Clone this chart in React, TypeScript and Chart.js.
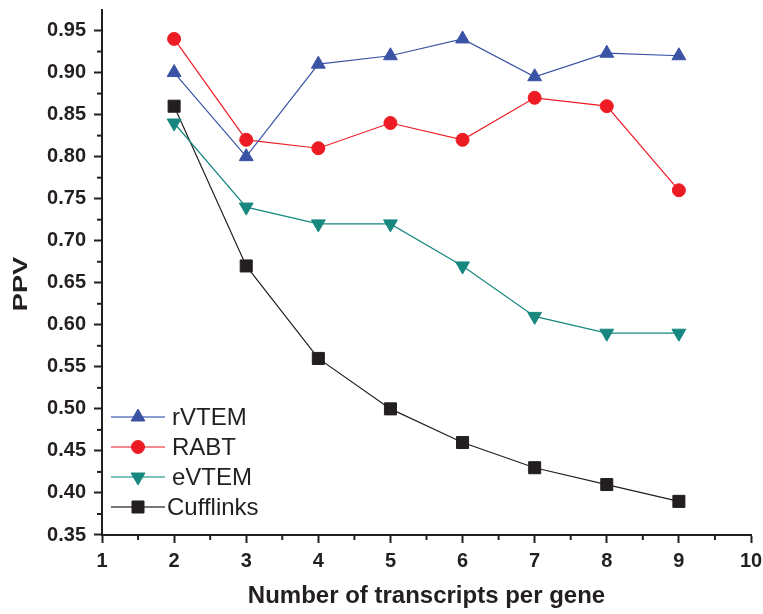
import React, { useEffect, useRef } from "react";
import { Chart, registerables } from "chart.js";

Chart.register(...registerables);

// transcripts per gene
const transcripts = [2, 3, 4, 5, 6, 7, 8, 9];

// positive predictive value for each method
const rVTEM = [0.9, 0.8, 0.91, 0.92, 0.94, 0.895, 0.923, 0.92];
const RABT = [0.94, 0.82, 0.81, 0.84, 0.82, 0.87, 0.86, 0.76];
const eVTEM = [0.84, 0.74, 0.72, 0.72, 0.67, 0.61, 0.59, 0.59];
const Cufflinks = [0.86, 0.67, 0.56, 0.5, 0.46, 0.43, 0.41, 0.39];

const seriesNames = ["rVTEM", "RABT", "eVTEM", "Cufflinks"];
const seriesColors = ["#3a53a4", "#ed1c24", "#17877f", "#231f20"];
const legendLineColors = ["#8c9bd0", "#f48a8e", "#7cc0bb", "#7a7778"];

const xTitle = "Number of transcripts per gene";
const yTitle = "PPV";

const INK = "#231f20";
const FONT = "'Liberation Sans', Arial, sans-serif";

const markerStyles = [
  { pointStyle: "triangle", pointRadius: 8, pointRotation: 0 },
  { pointStyle: "circle", pointRadius: 6.5, pointRotation: 0 },
  { pointStyle: "triangle", pointRadius: 8, pointRotation: 180 },
  { pointStyle: "rect", pointRadius: 8.5, pointRotation: 0 },
];

const legendTextX = [172, 172, 172, 167];
const legendRowsY = [417, 447, 477, 507];

function drawMarker(
  ctx: CanvasRenderingContext2D,
  style: string,
  r: number,
  rot: number,
  x: number,
  y: number
) {
  ctx.save();
  ctx.translate(x, y);
  ctx.rotate((rot * Math.PI) / 180);
  ctx.beginPath();
  if (style === "circle") {
    ctx.arc(0, 0, r, 0, Math.PI * 2);
  } else if (style === "triangle") {
    const a = (Math.PI * 2) / 3;
    ctx.moveTo(0, -r);
    ctx.lineTo(Math.sin(a) * r, -Math.cos(a) * r);
    ctx.lineTo(Math.sin(2 * a) * r, -Math.cos(2 * a) * r);
    ctx.closePath();
  } else {
    const s = Math.SQRT1_2 * r;
    ctx.rect(-s, -s, 2 * s, 2 * s);
  }
  ctx.fill();
  ctx.stroke();
  ctx.restore();
}

const extrasPlugin = {
  id: "extras",
  afterDraw(chart: any) {
    const ctx = chart.ctx as CanvasRenderingContext2D;
    const xs = chart.scales.x;
    const ys = chart.scales.y;
    const area = chart.chartArea;
    ctx.save();
    ctx.strokeStyle = INK;
    ctx.lineWidth = 2;
    // minor ticks
    for (let v = 1.5; v < 10; v += 1) {
      const px = xs.getPixelForValue(v);
      ctx.beginPath();
      ctx.moveTo(px, area.bottom);
      ctx.lineTo(px, area.bottom + 5);
      ctx.stroke();
    }
    for (let v = 0.375; v < 0.96; v += 0.05) {
      const py = ys.getPixelForValue(v);
      ctx.beginPath();
      ctx.moveTo(area.left, py);
      ctx.lineTo(area.left - 5, py);
      ctx.stroke();
    }

    // axis titles
    ctx.fillStyle = INK;
    ctx.font = `bold 24px ${FONT}`;
    ctx.textAlign = "center";
    ctx.textBaseline = "alphabetic";
    ctx.fillText(xTitle, (area.left + area.right) / 2, 603);

    ctx.save();
    ctx.translate(27, 284);
    ctx.rotate(-Math.PI / 2);
    ctx.scale(1.3, 1);
    ctx.font = `bold 21px ${FONT}`;
    ctx.fillText(yTitle, 0, 0);
    ctx.restore();

    // legend
    chart.data.datasets.forEach((ds: any, i: number) => {
      const y = legendRowsY[i];
      ctx.strokeStyle = legendLineColors[i];
      ctx.lineWidth = 2;
      ctx.beginPath();
      ctx.moveTo(111, y);
      ctx.lineTo(165, y);
      ctx.stroke();
      const m = markerStyles[i];
      ctx.fillStyle = seriesColors[i];
      ctx.strokeStyle = seriesColors[i];
      ctx.lineWidth = 1;
      drawMarker(ctx, m.pointStyle, m.pointRadius, m.pointRotation, 138, y);
      ctx.fillStyle = INK;
      ctx.font = `24px ${FONT}`;
      ctx.textAlign = "left";
      ctx.textBaseline = "middle";
      ctx.fillText(ds.label, legendTextX[i], y + 1);
    });
    ctx.restore();
  },
};

export default function App() {
  const ref = useRef<HTMLCanvasElement | null>(null);

  useEffect(() => {
    if (!ref.current) return;
    const values = [rVTEM, RABT, eVTEM, Cufflinks];
    const chart = new Chart(ref.current, {
      type: "line",
      data: {
        datasets: values.map((vals, i) => ({
          label: seriesNames[i],
          data: transcripts.map((t, j) => ({ x: t, y: vals[j] })),
          borderColor: seriesColors[i],
          backgroundColor: seriesColors[i],
          borderWidth: 1.2,
          pointBorderWidth: 1,
          pointBorderColor: seriesColors[i],
          pointBackgroundColor: seriesColors[i],
          pointStyle: markerStyles[i].pointStyle as any,
          pointRadius: markerStyles[i].pointRadius,
          pointRotation: markerStyles[i].pointRotation,
          pointHoverRadius: markerStyles[i].pointRadius,
          fill: false,
          tension: 0,
        })),
      },
      options: {
        animation: false,
        responsive: false,
        maintainAspectRatio: false,
        layout: { padding: { top: 7, right: 12, left: 0, bottom: 0 } },
        plugins: {
          legend: { display: false },
          tooltip: { enabled: false },
        },
        scales: {
          x: {
            type: "linear",
            min: 1,
            max: 10,
            ticks: {
              stepSize: 1,
              color: INK,
              padding: 6,
              maxRotation: 0,
              font: { family: FONT, size: 20, weight: "bold" },
            },
            grid: {
              drawOnChartArea: false,
              drawTicks: true,
              tickLength: 8,
              tickWidth: 2,
              tickColor: INK,
            },
            border: { display: true, color: INK, width: 2 },
            afterFit: (scale: any) => {
              scale.height = 79;
              scale.paddingLeft = 0;
              scale.paddingRight = 0;
            },
          },
          y: {
            type: "linear",
            min: 0.35,
            max: 0.975,
            ticks: {
              stepSize: 0.05,
              includeBounds: false,
              color: INK,
              padding: 8,
              font: { family: FONT, size: 20, weight: "bold" },
              callback: (v: any) => Number(v).toFixed(2),
            },
            grid: {
              drawOnChartArea: false,
              drawTicks: true,
              tickLength: 8,
              tickWidth: 2,
              tickColor: INK,
            },
            border: { display: true, color: INK, width: 2 },
            afterFit: (scale: any) => {
              scale.width = 102;
              scale.paddingTop = 0;
              scale.paddingBottom = 0;
            },
          },
        },
      },
      plugins: [extrasPlugin],
    });
    return () => chart.destroy();
  }, []);

  return (
    <div style={{ position: "absolute", left: 0, top: 0, width: 763, height: 614, background: "#fff" }}>
      <canvas ref={ref} width={763} height={614} style={{ width: 763, height: 614, display: "block" }} />
    </div>
  );
}
